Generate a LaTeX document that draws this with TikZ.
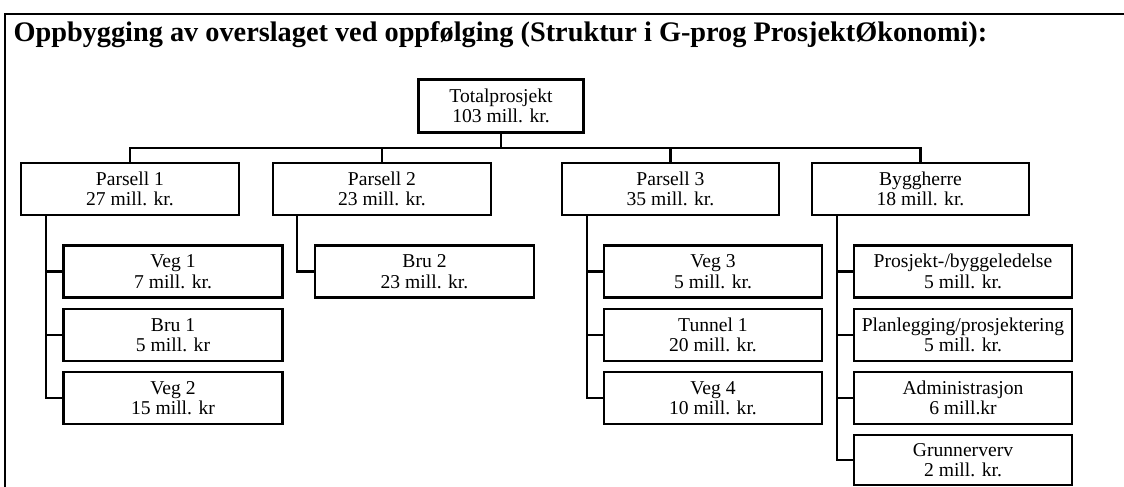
\documentclass[tikz,border=0pt]{standalone}
\usepackage{fontspec}
\setmainfont{Liberation Serif}
\usepackage{tikz}

\begin{document}
\begin{tikzpicture}[x=1pt, y=-1pt,
    every node/.style={font=\fontsize{19.6}{20.5}\selectfont},
    post/.style={draw, line width=2.8pt, align=center, inner sep=0pt,
        minimum width=218pt, minimum height=52pt},
    link/.style={line width=2.2pt}]
    \useasboundingbox (0,0) rectangle (1124,487);
    \draw[line width=2.4pt] (1124,14) -- (5,14) -- (5,487);
    \draw
        (10,42) node[anchor=base west, font=\bfseries\fontsize{28.3}{30}\selectfont] (title)
        {Oppbygging av overslaget ved oppfølging (Struktur i G-prog ProsjektØkonomi):};
    % top level
    \node[post, minimum width=165pt, minimum height=53pt] (total) at (501,106) {Totalprosjekt\\103 mill. kr.};
    \node[post] (p1) at (130,189) {Parsell 1\\27 mill. kr.};
    \node[post] (p2) at (382,189) {Parsell 2\\23 mill. kr.};
    \node[post, minimum width=217pt] (p3) at (670.5,189) {Parsell 3\\35 mill. kr.};
    \node[post, minimum width=217pt] (bh) at (920.5,189) {Byggherre\\18 mill. kr.};
    % parsell 1
    \node[post, minimum width=219pt] (veg1) at (173,271.5) {Veg 1\\7 mill. kr.};
    \node[post, minimum width=219pt] (bru1) at (173,335) {Bru 1\\5 mill. kr};
    \node[post, minimum width=219pt] (veg2) at (173,398) {Veg 2\\15 mill. kr};
    % parsell 2
    \node[post, minimum width=219pt] (bru2) at (424.5,271.5) {Bru 2\\23 mill. kr.};
    % parsell 3
    \node[post] (veg3) at (713,271.5) {Veg 3\\5 mill. kr.};
    \node[post] (tun1) at (713,335) {Tunnel 1\\20 mill. kr.};
    \node[post] (veg4) at (713,398) {Veg 4\\10 mill. kr.};
    % byggherre
    \node[post] (pbl) at (963,271.5) {Prosjekt-/byggeledelse\\5 mill. kr.};
    \node[post] (plan) at (963,335) {Planlegging/prosjektering\\5 mill. kr.};
    \node[post] (adm) at (963,398) {Administrasjon\\6 mill.kr};
    \node[post, minimum height=50pt] (grunn) at (963,460) {Grunnerverv\\2 mill. kr.};

    % bus from the total
    \coordinate (bus) at (501,148);
    \draw[link] (total.south) -- (bus);
    \draw[link] (p1.north) -- (p1.north |- bus) -- (bh.north |- bus) -- (bh.north);
    \draw[link] (p2.north) -- (p2.north |- bus);
    \draw[link] (p3.north) -- (p3.north |- bus);

    % trunks
    \coordinate (t1) at ([xshift=26pt]p1.south west);
    \coordinate (t2) at ([xshift=25pt]p2.south west);
    \coordinate (t3) at ([xshift=26pt]p3.south west);
    \coordinate (t4) at ([xshift=26pt]bh.south west);
    \draw[link] (t1) |- (veg2.west);
    \draw[link] (veg1.west) -- (veg1.west -| t1);
    \draw[link] (bru1.west) -- (bru1.west -| t1);
    \draw[link] (t2) |- (bru2.west);
    \draw[link] (t3) |- (veg4.west);
    \draw[link] (veg3.west) -- (veg3.west -| t3);
    \draw[link] (tun1.west) -- (tun1.west -| t3);
    \draw[link] (t4) |- (grunn.west);
    \draw[link] (pbl.west) -- (pbl.west -| t4);
    \draw[link] (plan.west) -- (plan.west -| t4);
    \draw[link] (adm.west) -- (adm.west -| t4);
\end{tikzpicture}
\end{document}
